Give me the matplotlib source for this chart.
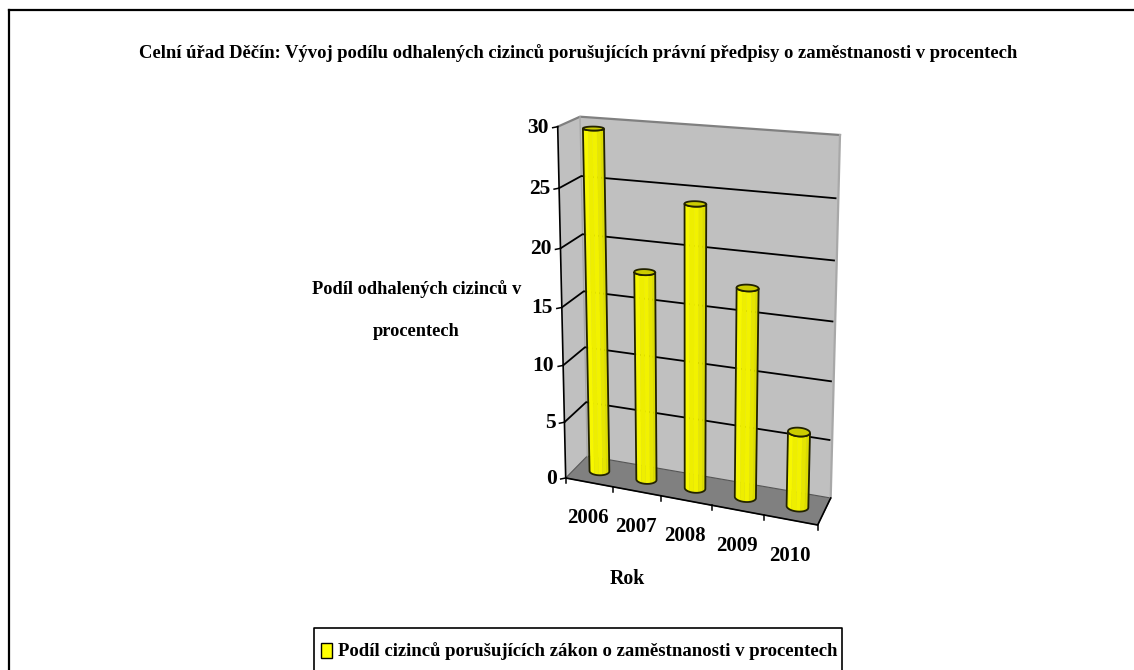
import numpy as np
import matplotlib
matplotlib.use('Agg')
import matplotlib.pyplot as plt
from matplotlib.patches import Polygon, Rectangle

plt.rcParams['font.family'] = ['Liberation Serif', 'DejaVu Sans']
plt.rcParams['font.weight'] = 'bold'

# Data
years = ['2006', '2007', '2008', '2009', '2010']
shares = [29.6, 18.1, 24.2, 17.8, 6.4]
y_ticks = [0, 5, 10, 15, 20, 25, 30]

title = 'Celní úřad Děčín: Vývoj podílu odhalených cizinců porušujících právní předpisy o zaměstnanosti v procentech'
y_title = 'Podíl odhalených cizinců v\nprocentech'
x_title = 'Rok'
legend_label = 'Podíl cizinců porušujících zákon o zaměstnanosti v procentech'

# Corners of the 3D box in pixels: front/back, left/right
floor_fl = np.array([565.7, 478.0])
floor_fr = np.array([817.7, 525.0])
floor_bl = np.array([587.3, 456.0])
floor_br = np.array([830.7, 498.0])
top_fl = np.array([557.7, 126.7])
top_fr = np.array([827.0, 150.0])
top_bl = np.array([580.0, 116.7])
top_br = np.array([840.0, 135.0])

n_cat = len(years)
y_max = y_ticks[-1]


def project(cat, depth, value):

    # slight perspective on both axes
    u = cat / (cat + 1.09 * (n_cat - cat))
    t = value / (value + 1.06 * (y_max - value))

    bottom = (1 - depth) * ((1 - u) * floor_fl + u * floor_fr) + depth * ((1 - u) * floor_bl + u * floor_br)
    top = (1 - depth) * ((1 - u) * top_fl + u * top_fr) + depth * ((1 - u) * top_bl + u * top_br)

    return bottom + t * (top - bottom)


def draw_cylinder(ax, cat, value, r_cat=0.2, r_depth=0.17):

    theta = np.linspace(0, 2 * np.pi, 73)
    low = np.array([project(cat + r_cat * np.cos(a), 0.5 + r_depth * np.sin(a), 0) for a in theta])
    high = np.array([project(cat + r_cat * np.cos(a), 0.5 + r_depth * np.sin(a), value) for a in theta])

    # front half of the circle, from left silhouette to right silhouette
    i_left = np.argmin(high[:-1, 0])
    i_right = np.argmax(high[:-1, 0])
    steps = (i_left - i_right) % 72
    idx = [(i_right + k) % 72 for k in range(steps + 1)]
    if low[idx[len(idx) // 2], 1] < low[(i_left + 36) % 72, 1]:
        idx = [(i_right - k) % 72 for k in range((i_right - i_left) % 72 + 1)]
    idx = idx[::-1]

    # facets, brighter on the left
    colors = ['#ffff00', '#f7f700', '#eeee00', '#f2f200', '#e6e600', '#dcdc00', '#d2d200']
    parts = np.array_split(np.arange(len(idx)), len(colors))
    for part, col in zip(parts, colors):
        first = part[0]
        last = min(part[-1] + 1, len(idx) - 1)
        sel = [idx[k] for k in range(first, last + 1)]
        pts = np.vstack([low[sel], high[sel][::-1]])
        ax.add_patch(Polygon(pts, closed=True, facecolor=col, edgecolor=col, linewidth=0.3, zorder=5))

    outline = np.vstack([low[idx], high[idx][::-1]])
    ax.add_patch(Polygon(outline, closed=True, fill=False, edgecolor='#222200', linewidth=1.3, zorder=6))
    ax.add_patch(Polygon(high, closed=True, facecolor='#cccc00', edgecolor='#222200', linewidth=1.3, zorder=7))


fig = plt.figure(figsize=(11.34, 6.70), dpi=100)
ax = fig.add_axes([0, 0, 1, 1])
ax.set_xlim(0, 1134)
ax.set_ylim(670, 0)
ax.axis('off')

# Outer frame, only top and left are visible
ax.plot([9, 1134], [10, 10], color='black', linewidth=1.6)
ax.plot([9, 9], [10, 670], color='black', linewidth=1.6)

ax.text(578.5, 53, title, ha='center', va='center', fontsize=13.4)

# Walls and floor
wall_back = [project(0, 1, 0), project(n_cat, 1, 0), project(n_cat, 1, y_max), project(0, 1, y_max)]
wall_left = [project(0, 0, 0), project(0, 1, 0), project(0, 1, y_max), project(0, 0, y_max)]
floor = [project(0, 0, 0), project(n_cat, 0, 0), project(n_cat, 1, 0), project(0, 1, 0)]
ax.add_patch(Polygon(wall_back, closed=True, facecolor='#c0c0c0', edgecolor='none', zorder=1))
ax.add_patch(Polygon(wall_left, closed=True, facecolor='#c0c0c0', edgecolor='none', zorder=1))
ax.add_patch(Polygon(floor, closed=True, facecolor='#808080', edgecolor='#555555', linewidth=0.8, zorder=2))

# Wall borders
edge = np.array([project(0, 0, y_max), project(0, 1, y_max), project(n_cat, 1, y_max)])
ax.plot(edge[:, 0], edge[:, 1], color='#808080', linewidth=1.6, zorder=2)
edge = np.array([project(n_cat, 1, y_max), project(n_cat, 1, 0)])
ax.plot(edge[:, 0], edge[:, 1], color='#a8a8a8', linewidth=1.6, zorder=2)
edge = np.array([project(0, 1, y_max), project(0, 1, 0)])
ax.plot(edge[:, 0], edge[:, 1], color='#a8a8a8', linewidth=1.0, zorder=2)

# Gridlines, ticks and value labels
for val in y_ticks:
    front = project(0, 0, val)
    back = project(0, 1, val)
    right = project(n_cat * 0.99, 1, val)
    if 0 < val < y_max:
        ax.plot([front[0], back[0], right[0]], [front[1], back[1], right[1]], color='black', linewidth=1.3, zorder=3)
    ax.plot([front[0] - 5, front[0]], [front[1] + 1, front[1]], color='black', linewidth=1.1, zorder=3)
    ax.text(front[0] - 9, front[1] + 1, str(val), ha='right', va='center', fontsize=15.5)

# Axis lines
p0 = project(0, 0, 0)
p1 = project(0, 0, y_max)
p2 = project(n_cat, 0, 0)
p3 = project(n_cat, 1, 0)
ax.plot([p1[0], p0[0], p2[0], p3[0]], [p1[1], p0[1], p2[1], p3[1]], color='black', linewidth=1.2, zorder=4)

for i in range(n_cat + 1):
    tick = project(i, 0, 0)
    ax.plot([tick[0], tick[0]], [tick[1], tick[1] + 5], color='black', linewidth=1.1, zorder=4)

for i, year in enumerate(years):
    pos = project(i + 0.5, 0, 0)
    ax.text(pos[0] - 1, pos[1] + 36, year, ha='center', va='center', fontsize=15)
    draw_cylinder(ax, i + 0.5, shares[i])

ax.text(627, 579, x_title, ha='center', va='center', fontsize=14.2)
ax.text(416.5, 310, y_title, ha='center', va='center', fontsize=13.2, linespacing=2.87, multialignment='center')

# Legend box runs off the bottom of the picture
ax.plot([313.5, 313.5, 842, 842], [675, 628, 628, 675], color='black', linewidth=1.2)
ax.add_patch(Rectangle((320.5, 643), 11.5, 15, facecolor='#ffff00', edgecolor='black', linewidth=1.0))
ax.text(338, 651, legend_label, ha='left', va='center', fontsize=13.47)

fig.savefig('out.png', dpi=100)
